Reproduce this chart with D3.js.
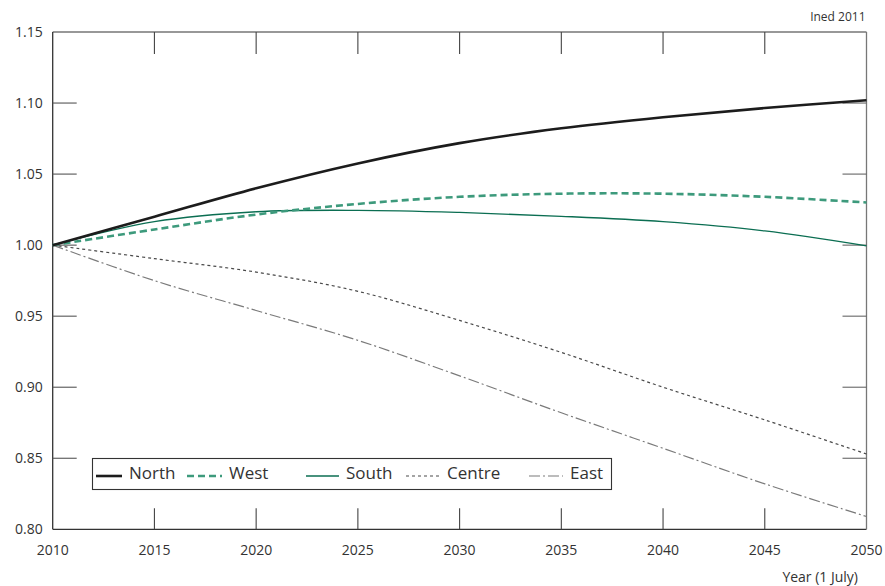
<!DOCTYPE html>
<html><head><meta charset="utf-8">
<script src="https://cdn.jsdelivr.net/npm/d3@7"></script>
<style>body{margin:0;background:#fff;}svg{display:block;font-family:"Open Sans",sans-serif;}</style>
</head><body><svg id="c" width="885" height="586"></svg>
<script>
const years = [2010, 2015, 2020, 2025, 2030, 2035, 2040, 2045, 2050];
const north  = [1.000, 1.020, 1.040, 1.0575, 1.0718, 1.0822, 1.0900, 1.0965, 1.102];
const west   = [1.000, 1.011, 1.0215, 1.029, 1.034, 1.0362, 1.0362, 1.034, 1.030];
const south  = [1.000, 1.0165, 1.0235, 1.0245, 1.023, 1.0203, 1.0165, 1.0100, 0.9995];
const centre = [1.000, 0.9905, 0.9810, 0.9675, 0.9470, 0.9245, 0.9000, 0.8770, 0.8530];
const east   = [1.000, 0.9750, 0.9540, 0.9330, 0.9080, 0.8820, 0.8570, 0.8320, 0.8090];
const yTicks = [0.80, 0.85, 0.90, 0.95, 1.00, 1.05, 1.10, 1.15];
const xTicks = [2010, 2015, 2020, 2025, 2030, 2035, 2040, 2045, 2050];
const seriesNames = ["North", "West", "South", "Centre", "East"];

const styles = {
  North:  {stroke:"#1c1c1c", width:2.6, dash:null},
  West:   {stroke:"#3d9a7c", width:2.6, dash:"7,4"},
  South:  {stroke:"#0b6e52", width:1.3, dash:null},
  Centre: {stroke:"#4a4a4a", width:1.2, dash:"3,3"},
  East:   {stroke:"#7a7a7a", width:1.2, dash:"11,3,2,3"}
};
const data = {North:north, West:west, South:south, Centre:centre, East:east};

const svg = d3.select("#c");
const L = 52.7, R = 866.5, T = 32, B = 529.3;
const x = d3.scaleLinear().domain([2010, 2050]).range([L, R]);
const y = d3.scaleLinear().domain([0.80, 1.15]).range([B, T]);

const axCol = "#333";
svg.append("line").attr("x1",L).attr("x2",L).attr("y1",T).attr("y2",B).attr("stroke",axCol).attr("stroke-width",1.3);
svg.append("line").attr("x1",L).attr("x2",R).attr("y1",B).attr("y2",B).attr("stroke",axCol).attr("stroke-width",1.3);
svg.append("line").attr("x1",L).attr("x2",R).attr("y1",T).attr("y2",T).attr("stroke",axCol).attr("stroke-width",1.1);
svg.append("line").attr("x1",R).attr("x2",R).attr("y1",T).attr("y2",B).attr("stroke","#777").attr("stroke-width",1.3);

const yt = yTicks.filter(v => v > 0.80 && v < 1.15);
svg.selectAll(".ytl").data(yt).enter().append("line")
  .attr("x1",L).attr("x2",L+24).attr("y1",d=>y(d)).attr("y2",d=>y(d)).attr("stroke","#555").attr("stroke-width",1.1);
svg.selectAll(".ytr").data(yt).enter().append("line")
  .attr("x1",R-24).attr("x2",R).attr("y1",d=>y(d)).attr("y2",d=>y(d)).attr("stroke","#666").attr("stroke-width",1.1);
svg.selectAll(".ylab").data(yTicks).enter().append("text")
  .attr("x",L-10).attr("y",d=>y(d)+5).attr("text-anchor","end").attr("font-size",14).attr("fill","#333")
  .text(d=>d3.format(".2f")(d));

const xt = xTicks.filter(v => v > 2010 && v < 2050);
svg.selectAll(".xtb").data(xt).enter().append("line")
  .attr("x1",d=>x(d)).attr("x2",d=>x(d)).attr("y1",B-21).attr("y2",B).attr("stroke","#444").attr("stroke-width",1.1);
svg.selectAll(".xtt").data(xt).enter().append("line")
  .attr("x1",d=>x(d)).attr("x2",d=>x(d)).attr("y1",T).attr("y2",T+22).attr("stroke","#444").attr("stroke-width",1.1);
svg.selectAll(".xlab").data(xTicks).enter().append("text")
  .attr("x",d=>x(d)).attr("y",B+26).attr("text-anchor","middle").attr("font-size",14).attr("fill","#333")
  .text(d=>d);

svg.append("text").attr("x",858).attr("y",582).attr("text-anchor","end").attr("font-size",14).attr("fill","#333").text("Year (1 July)");
svg.append("text").attr("x",R-1).attr("y",21).attr("text-anchor","end").attr("font-size",12).attr("fill","#333").text("Ined 2011");

const line = d3.line().x((d,i)=>x(years[i])).y(d=>y(d)).curve(d3.curveCatmullRom);
const order = ["East","Centre","South","West","North"];
order.forEach(n=>{
  const s = styles[n];
  svg.append("path").datum(data[n]).attr("d",line).attr("fill","none")
    .attr("stroke",s.stroke).attr("stroke-width",s.width).attr("stroke-dasharray",s.dash);
});

const lg = svg.append("g");
lg.append("rect").attr("x",92.5).attr("y",458.5).attr("width",519).attr("height",31)
  .attr("fill","#fff").attr("stroke","#333").attr("stroke-width",1.1);
const lx = [96, 187, 306, 406, 529];
const lw = [26, 35, 33, 34, 34];
seriesNames.forEach((n,i)=>{
  const s = styles[n];
  lg.append("line").attr("x1",lx[i]).attr("x2",lx[i]+lw[i]).attr("y1",476).attr("y2",476)
    .attr("stroke",s.stroke).attr("stroke-width",s.width).attr("stroke-dasharray",s.dash);
  lg.append("text").attr("x",lx[i]+lw[i]+7).attr("y",479).attr("font-size",17).attr("fill","#333").text(n);
});
</script></body></html>
